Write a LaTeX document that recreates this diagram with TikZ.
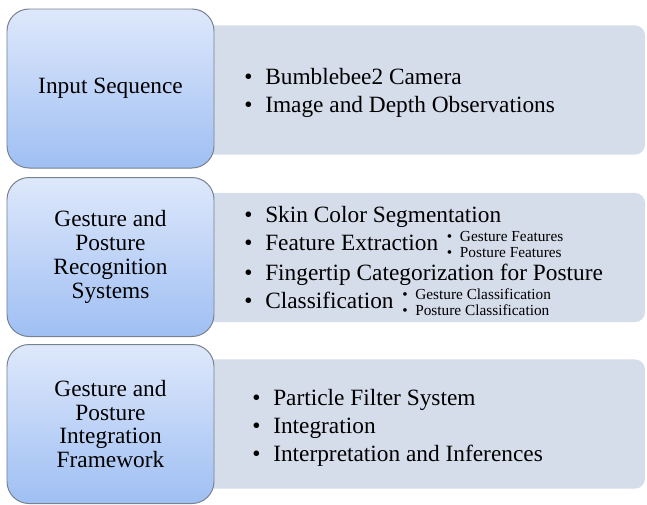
\documentclass[tikz,border=0pt]{standalone}
\usepackage{fontspec}
\setmainfont{Liberation Serif}
\usepackage{tikz}
\usetikzlibrary{positioning, calc}

\definecolor{stagetop}{HTML}{DEE8FB}
\definecolor{stagebot}{HTML}{9FBFF3}
\definecolor{stageline}{HTML}{76828F}
\definecolor{detailfill}{HTML}{D5DCEA}

% bullets for the item lists
\newcommand{\bul}{\makebox[0.9em][l]{\textbullet}}
\newcommand{\subbul}{\makebox[0.85em][l]{\textbullet}}
\newcommand{\sublist}[2]{{\fontsize{10.9}{11.4}\selectfont
    \begin{tabular}[c]{@{}l@{}}\subbul #1\\ \subbul #2\end{tabular}}}

\begin{document}
\begin{tikzpicture}[
    % --- Stage boxes (left column) ---
    stage/.style={
        draw=stageline, line width=0.7pt, rounded corners=0.55cm,
        top color=stagetop, bottom color=stagebot,
        minimum width=5.175cm, minimum height=3.975cm,
        align=center, font=\fontsize{16.6}{17}\selectfont
    },
    % --- Detail panels (right column) ---
    panel/.style={
        fill=detailfill, draw=none, rounded corners=0.25cm,
        minimum width=13.125cm, minimum height=3.23cm
    },
    items/.style={align=left, inner sep=0pt, anchor=west,
        font=\fontsize{16.6}{19.9}\selectfont},
]
\useasboundingbox (0,0) rectangle (16.175,-12.6);

% =============================================
%  Detail panels (behind the stages)
% =============================================
\node[panel] (seqbg)   at (9.5625, -2.25)   {};
\node[panel] (recogbg) at (9.5625, -6.4375) {};
\node[panel] (integbg) at (9.5625, -10.6)   {};

% =============================================
%  Stages
% =============================================
\node[stage] (seq)   at (2.7625, -2.2125) {Input Sequence};
\node[stage] (recog) at (2.7625, -6.425)  {Gesture and\\Posture\\Recognition\\Systems};
\node[stage] (integ) at (2.7625, -10.6)   {Gesture and\\Posture\\Integration\\Framework};

% =============================================
%  Item lists
% =============================================
\node[items] (seqitems) at (6.1, -2.33)
    {\bul Bumblebee2 Camera\\
     \bul Image and Depth Observations};

\node[items] (recogitems) at (6.1, -6.59)
    {\bul Skin Color Segmentation\\
     \bul Feature Extraction\hspace{2pt} \sublist{Gesture Features}{Posture Features}\\
     \bul Fingertip Categorization for Posture\\
     \bul Classification\hspace{2pt} \sublist{Gesture Classification}{Posture Classification}};

\node[items] (integitems) at (6.3, -10.7)
    {\bul Particle Filter System\\
     \bul Integration\\
     \bul Interpretation and Inferences};

\end{tikzpicture}
\end{document}
